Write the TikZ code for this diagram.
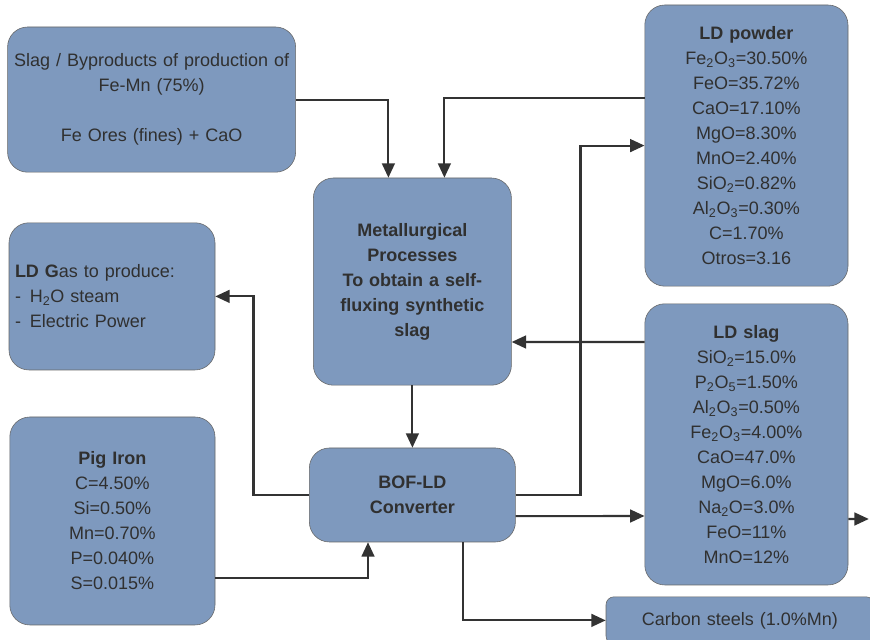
\documentclass[tikz,border=0pt]{standalone}
\usepackage{fontspec}
\setmainfont{Liberation Sans}
\usepackage{xcolor}
\usetikzlibrary{arrows.meta}

\definecolor{boxblue}{RGB}{126,153,190}
\definecolor{inkgray}{RGB}{48,48,48}
\newcommand{\boxfont}{\fontsize{12.8}{17.8}\selectfont}

\tikzset{
    box/.style={draw=black!60, fill=boxblue, rounded corners=0.5cm, inner sep=0pt,
        align=center, text=inkgray, font=\boxfont},
    link/.style={draw=black!80, line width=1.5pt, -{Triangle[length=0.36cm,width=0.32cm]}},
}

\begin{document}
\begin{tikzpicture}
    \useasboundingbox (0,0) rectangle (21.75,16);

    \node[box, text width=7.2cm, minimum height=3.63cm] (src) at (3.79,13.51)
        {Slag / Byproducts of production of\\ Fe-Mn (75\%)\\[0.625cm] Fe Ores (fines) + CaO};
    \node[box, text width=5.08cm, minimum height=7.03cm] (pow) at (18.66,12.36)
        {\textbf{LD powder}\\ Fe\textsubscript{2}O\textsubscript{3}=30.50\%\\ FeO=35.72\%\\ CaO=17.10\%\\
         MgO=8.30\%\\ MnO=2.40\%\\ SiO\textsubscript{2}=0.82\%\\ Al\textsubscript{2}O\textsubscript{3}=0.30\%\\
         C=1.70\%\\ Otros=3.16};
    \node[box, font=\boxfont\bfseries, text width=4.95cm, minimum height=5.18cm] (met) at (10.31,8.96)
        {Metallurgical\\ Processes\\ To obtain a self-\\ fluxing synthetic\\ slag};
    \node[box, align=left, text width=4.85cm, inner xsep=0.15cm, minimum height=3.68cm] (gas) at (2.8,8.59)
        {\textbf{LD G}as to produce:\\ -\hspace{0.22cm}H\textsubscript{2}O steam\\ -\hspace{0.22cm}Electric Power};
    \node[box, text width=5.08cm, minimum height=7.03cm] (slag) at (18.66,4.89)
        {\textbf{LD slag}\\ SiO\textsubscript{2}=15.0\%\\ P\textsubscript{2}O\textsubscript{5}=1.50\%\\
         Al\textsubscript{2}O\textsubscript{3}=0.50\%\\ Fe\textsubscript{2}O\textsubscript{3}=4.00\%\\
         CaO=47.0\%\\ MgO=6.0\%\\ Na\textsubscript{2}O=3.0\%\\ FeO=11\%\\ MnO=12\%};
    \node[box, text width=5.13cm, minimum height=5.2cm] (pig) at (2.81,2.975)
        {\textbf{Pig Iron}\\ C=4.50\%\\ Si=0.50\%\\ Mn=0.70\%\\ P=0.040\%\\ S=0.015\%};
    \node[box, font=\boxfont\bfseries, text width=5.15cm, minimum height=2.35cm] (bof) at (10.31,3.625)
        {BOF-LD\\ Converter};
    \node[box, rounded corners=0.2cm, text width=6.7cm, minimum height=1.18cm] (steel) at (18.5,0.49)
        {Carbon steels (1.0\%Mn)};
    \coordinate (exit) at (21.72,3.025);

    % inputs to the metallurgical processes
    \draw[link] (src.east) -| ([xshift=-0.6cm]met.north);
    \draw[link] ([yshift=1.19cm]pow.west) -| ([xshift=0.8cm]met.north);
    \draw[link] ([yshift=2.56cm]slag.west) -- ([yshift=-1.51cm]met.east);
    \draw[link] (met.south) -- (bof.north);

    % converter
    \draw[link] ([yshift=-1.43cm]pig.east) -| ([xshift=-1.11cm]bof.south);
    \draw[link] (bof.west) -- ++(-1.39,0) |- (gas.east);
    \draw[link] (bof.east) -- ++(1.62,0) |- (pow.west);
    \draw[link] ([yshift=-0.53cm]bof.east) -- ([yshift=-1.79cm]slag.west);
    \draw[link] ([xshift=1.27cm]bof.south) |- (steel.west);
    \draw[link] ([yshift=-1.865cm]slag.east) -- (exit);
\end{tikzpicture}
\end{document}
